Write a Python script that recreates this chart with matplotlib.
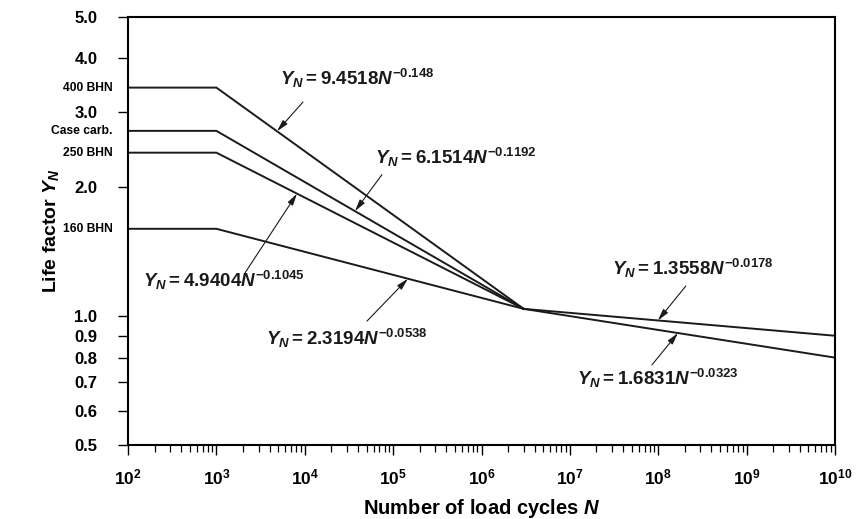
import numpy as np
import matplotlib
matplotlib.use("Agg")
import matplotlib.pyplot as plt
from matplotlib.ticker import FixedLocator, FixedFormatter, LogLocator, NullFormatter

plt.rcParams['font.family'] = ['Liberation Sans', 'DejaVu Sans']
plt.rcParams['font.weight'] = 'bold'
plt.rcParams['mathtext.fontset'] = 'custom'
plt.rcParams['mathtext.rm'] = 'Liberation Sans:bold'
plt.rcParams['mathtext.it'] = 'Liberation Sans:bold:italic'
plt.rcParams['mathtext.bf'] = 'Liberation Sans:bold'

# corner points (straight segments on log-log axes)
cycles_knee = [1e2, 1e3, 3e6]
y_400 = [3.42, 3.42, 1.04]
y_case = [2.71, 2.71, 1.04]
y_250 = [2.41, 2.41, 1.04]
y_160 = [1.60, 1.60, 1.04]

cycles_tail = [3e6, 1e10]
y_upper = [1.04, 0.90]
y_lower = [1.04, 0.80]

material_names = ['400 BHN', 'Case carb.', '250 BHN', '160 BHN']
material_levels = [y_400[0], y_case[0], y_250[0], y_160[0]]

y_ticks = [0.5, 0.6, 0.7, 0.8, 0.9, 1.0, 2.0, 3.0, 4.0, 5.0]
y_tick_labels = ['0.5', '0.6', '0.7', '0.8', '0.9', '1.0', '2.0', '3.0', '4.0', '5.0']
x_exponents = [2, 3, 4, 5, 6, 7, 8, 9, 10]

equations = [
    r'$Y_N = 9.4518N^{-0.148}$',
    r'$Y_N = 6.1514N^{-0.1192}$',
    r'$Y_N = 4.9404N^{-0.1045}$',
    r'$Y_N = 2.3194N^{-0.0538}$',
    r'$Y_N = 1.3558N^{-0.0178}$',
    r'$Y_N = 1.6831N^{-0.0323}$',
]


def on_line(xs, ys, x):
    # position on a log-log straight segment
    return 10 ** np.interp(np.log10(x), np.log10(xs), np.log10(ys))


fig = plt.figure(figsize=(8.61, 5.19), dpi=100)
ax = fig.add_axes([0.1487, 0.1426, 0.8211, 0.8246])

for ys in [y_400, y_case, y_250, y_160]:
    ax.plot(cycles_knee, ys, color='#1a1a1a', lw=1.4)
ax.plot(cycles_tail, y_upper, color='#1a1a1a', lw=1.4)
ax.plot(cycles_tail, y_lower, color='#1a1a1a', lw=1.4)

ax.set_xscale('log')
ax.set_yscale('log')
ax.set_xlim(1e2, 1e10)
ax.set_ylim(0.5, 5.0)

ax.yaxis.set_major_locator(FixedLocator(y_ticks))
ax.yaxis.set_major_formatter(FixedFormatter(y_tick_labels))
ax.yaxis.set_minor_locator(FixedLocator([]))
ax.yaxis.set_minor_formatter(NullFormatter())

ax.xaxis.set_major_locator(FixedLocator([10.0 ** e for e in x_exponents]))
ax.xaxis.set_major_formatter(FixedFormatter([r'$10^{%d}$' % e for e in x_exponents]))
ax.xaxis.set_minor_locator(LogLocator(base=10, subs=np.arange(2, 10), numticks=20))
ax.xaxis.set_minor_formatter(NullFormatter())

ax.tick_params(axis='y', which='major', direction='out', length=7, width=1.0,
               pad=15, labelsize=12)
ax.tick_params(axis='x', which='major', direction='out', length=7, width=1.0,
               pad=9, labelsize=12.5)
ax.tick_params(axis='x', which='minor', direction='out', length=5, width=0.9)
for sp in ax.spines.values():
    sp.set_linewidth(1.5)

ax.set_xlabel(r'Number of load cycles $N$', fontsize=14.5, fontweight='bold', labelpad=7)
ax.set_ylabel(r'Life factor $Y_N$', fontsize=14, fontweight='bold', labelpad=10)

ytrans = ax.get_yaxis_transform()
for name, lvl in zip(material_names, material_levels):
    ax.text(-0.022, lvl, name, transform=ytrans, ha='right', va='center',
            fontsize=8.7, fontweight='bold')

# (tip x on line, line, tail point, text anchor)
notes = [
    (4850, (cycles_knee, y_400), (9550, 3.165), (5250, 3.60)),
    (37000, (cycles_knee, y_case), (74600, 2.14), (62200, 2.355)),
    (8170, (cycles_knee, y_250), (2106, 1.262), (148, 1.215)),
    (147000, (cycles_knee, y_160), (50600, 0.974), (3640, 0.889)),
    (9.9e7, (cycles_tail, y_upper), (2.05e8, 1.176), (2.99e7, 1.296)),
    (1.67e8, (cycles_tail, y_lower), (8.47e7, 0.769), (1.2e7, 0.717)),
]
for eq, (tx, (lx, ly), tail, anchor) in zip(equations, notes):
    tip = (tx, on_line(lx, ly, tx))
    ax.annotate('', xy=tip, xytext=tail,
                arrowprops=dict(arrowstyle='-|>,head_length=0.7,head_width=0.18',
                                lw=0.8, color='#1a1a1a', shrinkA=0, shrinkB=0))
    ax.text(anchor[0], anchor[1], eq, ha='left', va='center', fontsize=13.5,
            color='#1a1a1a')

fig.savefig('out.png', dpi=100)
